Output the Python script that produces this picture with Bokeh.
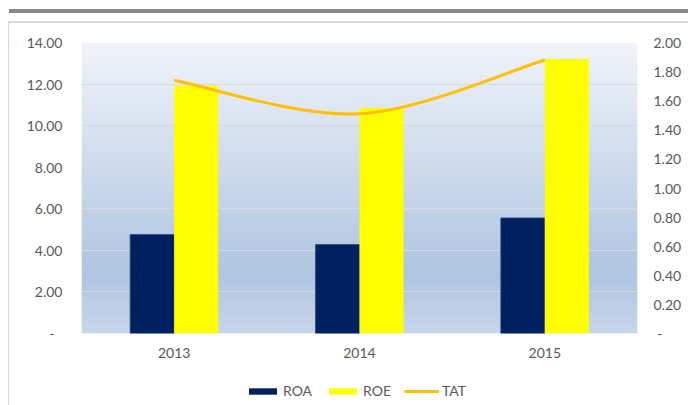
import numpy as np
from bokeh.plotting import figure
from bokeh.models import (Range1d, LinearAxis, FixedTicker, NumeralTickFormatter,
                          Legend, LegendItem, ColumnDataSource, Div)
from bokeh.layouts import column, row
from bokeh.embed import file_html
from bokeh.resources import INLINE

# ---- data ----
years = ["2013", "2014", "2015"]
roa = [4.76, 4.28, 5.56]
roe = [11.92, 10.85, 13.21]
tat = [1.74, 1.51, 1.88]
left_ticks = [0, 2, 4, 6, 8, 10, 12, 14]
right_ticks = [0, 0.2, 0.4, 0.6, 0.8, 1.0, 1.2, 1.4, 1.6, 1.8, 2.0]

FONT = "Lato"
TXT = "#595959"
C_ROA = "#002060"
C_ROE = "#FFFF00"
C_TAT = "#FFC000"

HEAD_H = 23
LEG_H = 33
MAIN_H = 405 - HEAD_H - LEG_H
MAIN_W = 679

p = figure(width=MAIN_W, height=MAIN_H, output_backend="svg", toolbar_location=None,
           x_range=Range1d(0, 3), y_range=Range1d(0, 14),
           min_border_left=72, min_border_right=51, min_border_top=42 - HEAD_H,
           min_border_bottom=HEAD_H + MAIN_H - 333)
p.outline_line_color = None
p.background_fill_color = "white"
p.border_fill_color = "white"
p.extra_y_ranges = {"tat": Range1d(0, 2)}

# gradient plot-area background
H = 291
t = np.linspace(0, 1, H)  # 0 = top, 1 = bottom
stops_t = [0.0, 0.8, 1.0]
stops_c = np.array([[241, 244, 250], [175, 197, 225], [199, 215, 235]], dtype=float)
rgb = np.stack([np.interp(t, stops_t, stops_c[:, k]) for k in range(3)], axis=1)
rgb = rgb[::-1]  # row 0 = bottom
img = np.zeros((H, 1), dtype=np.uint32)
view = img.view(dtype=np.uint8).reshape((H, 1, 4))
view[:, 0, 0] = rgb[:, 0].astype(np.uint8)
view[:, 0, 1] = rgb[:, 1].astype(np.uint8)
view[:, 0, 2] = rgb[:, 2].astype(np.uint8)
view[:, 0, 3] = 255
p.image_rgba(image=[img], x=0, y=0, dw=3, dh=14, level="image")

# bars
xc = np.arange(len(years)) + 0.5
bw = 0.2375
src = ColumnDataSource(dict(x_roa=xc - bw / 2, x_roe=xc + bw / 2, roa=roa, roe=roe))
p.vbar(x="x_roa", top="roa", width=bw, bottom=0, source=src,
       fill_color=C_ROA, line_color="#2B4A85", line_width=0.8)
p.vbar(x="x_roe", top="roe", width=bw, bottom=0, source=src,
       fill_color=C_ROE, line_color=None)

# smoothed TAT line (Excel-style bezier smoothing through the data points)
px = list(xc)
py = list(tat)
n = len(px)
x0s, y0s, x1s, y1s, cx0s, cy0s, cx1s, cy1s = [], [], [], [], [], [], [], []
for i in range(n - 1):
    pm = max(i - 1, 0)
    pp = min(i + 2, n - 1)
    x0s.append(px[i]); y0s.append(py[i])
    x1s.append(px[i + 1]); y1s.append(py[i + 1])
    cx0s.append(px[i] + (px[i + 1] - px[pm]) / 6)
    cy0s.append(py[i] + (py[i + 1] - py[pm]) / 6)
    cx1s.append(px[i + 1] - (px[pp] - px[i]) / 6)
    cy1s.append(py[i + 1] - (py[pp] - py[i]) / 6)
p.bezier(x0=x0s, y0=y0s, x1=x1s, y1=y1s, cx0=cx0s, cy0=cy0s, cx1=cx1s, cy1=cy1s,
         line_color=C_TAT, line_width=3, y_range_name="tat")

# grid
p.xgrid.visible = False
p.ygrid.ticker = FixedTicker(ticks=left_ticks)
p.ygrid.grid_line_color = "#D9D9D9"
p.ygrid.grid_line_width = 1

# axes
def style_axis(ax):
    ax.axis_line_color = None
    ax.major_tick_line_color = None
    ax.minor_tick_line_color = None
    ax.major_tick_out = 0
    ax.major_tick_in = 0
    ax.major_label_text_font = FONT
    ax.major_label_text_font_size = "14px"
    ax.major_label_text_color = TXT

p.yaxis.ticker = FixedTicker(ticks=left_ticks)
p.yaxis.formatter = NumeralTickFormatter(format="0.00")
p.yaxis.major_label_overrides = {0: "-\u2007"}
style_axis(p.yaxis[0])
p.yaxis.major_label_standoff = 19

ry = LinearAxis(y_range_name="tat", ticker=FixedTicker(ticks=right_ticks),
                formatter=NumeralTickFormatter(format="0.00"))
ry.major_label_overrides = {0: "\u00a0-"}
style_axis(ry)
ry.major_label_standoff = 16
p.add_layout(ry, "right")

p.xaxis.ticker = FixedTicker(ticks=list(xc))
p.xaxis.major_label_overrides = {float(v): y for v, y in zip(xc, years)}
style_axis(p.xaxis[0])
p.xaxis.major_label_standoff = 14

# legend strip (separate figure so the legend is not clipped)
lf = figure(width=MAIN_W, height=LEG_H, output_backend="svg", toolbar_location=None,
            x_range=Range1d(0, 3), y_range=Range1d(0, 14),
            x_axis_type=None, y_axis_type=None, min_border=0)
lf.outline_line_color = None
lf.grid.visible = False
lf.background_fill_color = "white"
lf.border_fill_color = "white"
lsrc = ColumnDataSource(dict(x=xc, roa=roa, roe=roe, tat=tat))
d_roa = lf.vbar(x="x", top="roa", width=bw, source=lsrc, fill_color=C_ROA,
                line_color=None, visible=False)
d_roe = lf.vbar(x="x", top="roe", width=bw, source=lsrc, fill_color=C_ROE,
                line_color=None, visible=False)
d_tat = lf.line(x="x", y="tat", source=lsrc, line_color=C_TAT, line_width=3,
                visible=False)
legend = Legend(items=[LegendItem(label="ROA", renderers=[d_roa]),
                       LegendItem(label="ROE", renderers=[d_roe]),
                       LegendItem(label="TAT", renderers=[d_tat])],
                location=(164, 6), orientation="horizontal",
                glyph_width=35, glyph_height=8, label_standoff=3, spacing=13,
                padding=0, margin=0, border_line_color=None,
                background_fill_alpha=0, inactive_fill_alpha=0,
                label_text_font=FONT,
                label_text_font_size="14px", label_text_color=TXT)
lf.add_layout(legend, "center")

# header bar and chart border
header = Div(width=688, height=HEAD_H, margin=0, text=(
    '<div style="position:relative;width:688px;height:23px;">'
    '<div style="position:absolute;left:9px;top:9px;width:679px;height:4px;'
    'background:#888888;"></div>'
    '<div style="position:absolute;left:8px;top:21px;width:680px;height:2px;'
    'background:#DADADA;"></div></div>'))
pad = Div(width=8, height=405 - HEAD_H, margin=0, text="")
border = Div(width=1, height=405 - HEAD_H, margin=0, text="",
             styles={"background-color": "#D6D6D6"})

layout = column(header, row(pad, border, column(p, lf, spacing=0), spacing=0),
                spacing=0)

open("out.html", "w").write(file_html(layout, INLINE))
